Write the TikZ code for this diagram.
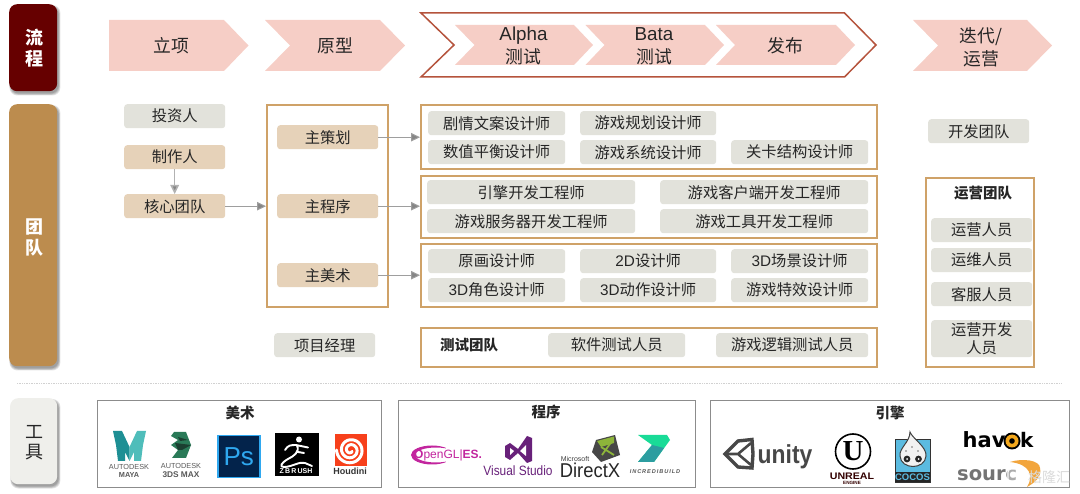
\documentclass[tikz,border=0pt]{standalone}
\usepackage{fontspec}
\setmainfont{Noto Sans CJK SC}
\newfontfamily\lat{Liberation Sans}
\newfontfamily\latserif{Liberation Serif}
\newfontfamily\heavy{DejaVu Sans}
\usetikzlibrary{arrows.meta,calc}
\definecolor{dkred}{HTML}{660000}
\definecolor{brown}{HTML}{BC8C4E}
\definecolor{toolbg}{HTML}{EFEFEB}
\definecolor{pinkc}{HTML}{F6CEC6}
\definecolor{outerc}{HTML}{B5533C}
\definecolor{chipg}{HTML}{E2E2DB}
\definecolor{chipb}{HTML}{E6D2B9}
\definecolor{frameo}{HTML}{CFA268}
\definecolor{frameg}{HTML}{8C8C8C}
\definecolor{txt}{HTML}{262626}
\definecolor{mayaA}{HTML}{1E8F94}
\definecolor{mayaB}{HTML}{4FBDBA}
\definecolor{maxA}{HTML}{2A7A58}
\definecolor{maxB}{HTML}{1B3F31}
\definecolor{psbg}{HTML}{03234B}
\definecolor{psfg}{HTML}{2FA8F0}
\definecolor{houd}{HTML}{F7401B}
\definecolor{oglc}{HTML}{C2259E}
\definecolor{vsc}{HTML}{68217A}
\definecolor{ibg}{HTML}{19DB97}
\definecolor{ibt}{HTML}{2C9DA0}
\definecolor{cocb}{HTML}{5BBBE0}
\definecolor{dxg}{HTML}{8DB53A}
\definecolor{havo}{HTML}{F4A81C}
\definecolor{srco}{HTML}{F2A53C}
\tikzset{x=1pt,y=-1pt,
 chip/.style={rounded corners=3pt,inner sep=0pt,align=center,text=txt,font=\fontsize{15.3}{19}\selectfont},
 graychip/.style={chip,fill=chipg},
 tanchip/.style={chip,fill=chipb},
 frameor/.style={draw=frameo,line width=1.6pt,fill=white,inner sep=0pt},
 framegr/.style={draw=frameg,line width=1.4pt,fill=white,inner sep=0pt},
 lane/.style={rounded corners=8pt,inner sep=0pt,align=center},
 pink/.style={fill=pinkc},
 steplabel/.style={font=\fontsize{17.8}{23}\selectfont,text=txt,align=center,inner sep=0pt},
 flow/.style={draw=black!38,line width=1pt,-{Triangle[length=9pt,width=8.5pt,fill=black!48]}},
 title/.style={font=\bfseries\fontsize{14.5}{18}\selectfont,text=txt,inner sep=0pt},
 logot/.style={inner sep=0pt,font=\lat},
}
% name, x1,y1,x2,y2, style, text
\newcommand\bx[7]{%
 \pgfmathsetmacro\bxw{#4-#2}\pgfmathsetmacro\bxh{#5-#3}%
 \node[#6,minimum width=\bxw pt,minimum height=\bxh pt,anchor=north west] (#1) at (#2,#3) {#7};}
% soft shadow under a lane
\newcommand\softsh[4]{%
 \foreach \d in {0,1,2,3}{\fill[black,opacity=.11,rounded corners=8pt] ({#1+\d*.4+.4},{#2+\d*.5+1}) rectangle ({#3+3.4-\d*.6},{#4+4.5-\d*.7});}}
\begin{document}
\begin{tikzpicture}
\useasboundingbox (0,0) rectangle (1080,494);
% lanes
\softsh{9}{4}{57}{91}
\softsh{9}{104}{57}{366}
\softsh{10}{398}{57}{484}
\bx{laneA}{9}{4}{57}{91}{lane,fill=dkred}{}
\bx{laneB}{9}{104}{57}{366}{lane,fill=brown}{}
\bx{laneC}{10}{398}{57}{484}{lane,fill=toolbg}{}
\node[text=white,align=center,inner sep=0pt,font=\bfseries\fontsize{18}{21}\selectfont] (laneAt) at (34,48.5) {流\\程};
\node[text=white,align=center,inner sep=0pt,font=\bfseries\fontsize{18}{21}\selectfont] (laneBt) at (34,237.5) {团\\队};
\node[text=txt,align=center,inner sep=0pt,font=\fontsize{18}{20}\selectfont] (laneCt) at (34,443) {工\\具};
% flow
\fill[pink] (109,20) -- (224,20) -- (248.5,45.5) -- (224,71) -- (109,71) -- cycle;
\node[steplabel] (s1) at (171,46) {立项};
\fill[pink] (265,20) -- (380,20) -- (405,45.5) -- (380,71) -- (265,71) -- (290,45.5) -- cycle;
\node[steplabel] (s2) at (335,46) {原型};
\draw[draw=outerc,line width=1.5pt,fill=white,miter limit=10] (421,13) -- (844.5,13) -- (876,45) -- (844.5,77) -- (421,77) -- (454,45) -- cycle;
\fill[pink] (455,25) -- (574,25) -- (593,45) -- (574,65) -- (455,65) -- (474.5,45) -- cycle;
\fill[pink] (585.5,25) -- (705,25) -- (724,45) -- (705,65) -- (585.5,65) -- (604.5,45) -- cycle;
\fill[pink] (716,25) -- (836,25) -- (855,45) -- (836,65) -- (716,65) -- (735,45) -- cycle;
\node[steplabel] (s3) at (523.5,46) {{\lat\fontsize{18.8}{23}\selectfont Alpha}\\测试};
\node[steplabel] (s4) at (654,46) {{\lat\fontsize{18.8}{23}\selectfont Bata}\\测试};
\node[steplabel] (s5) at (785,46) {发布};
\fill[pink] (913,20) -- (1027,20) -- (1052,45.5) -- (1027,71) -- (913,71) -- (938,45.5) -- cycle;
\node[steplabel] (s6) at (981,47) {迭代/\\运营};
% left column
\bx{inv}{124}{104}{225}{128}{graychip}{投资人}
\bx{prod}{124}{145}{225}{169}{tanchip}{制作人}
\bx{core}{124}{194}{225}{218}{tanchip}{核心团队}
\bx{pm}{274}{333}{375}{357}{graychip}{项目经理}
% leads frame
\bx{leads}{266}{104}{387}{306}{frameor}{}
\bx{lead1}{277}{125}{378}{149}{tanchip}{主策划}
\bx{lead2}{277}{194}{378}{218}{tanchip}{主程序}
\bx{lead3}{277}{263}{378}{287}{tanchip}{主美术}
% group 1
\bx{g1}{420}{104}{876}{168}{frameor}{}
\bx{a1}{428}{111}{565}{135}{graychip}{剧情文案设计师}
\bx{a2}{580}{111}{716}{135}{graychip}{游戏规划设计师}
\bx{a3}{428}{140}{565}{164}{graychip}{数值平衡设计师}
\bx{a4}{580}{140}{716}{164}{graychip}{游戏系统设计师}
\bx{a5}{731}{140}{868}{164}{graychip}{关卡结构设计师}
% group 2
\bx{g2}{420}{175}{876}{237}{frameor}{}
\bx{b1}{427}{180}{635}{204}{graychip}{引擎开发工程师}
\bx{b2}{660}{180}{868}{204}{graychip}{游戏客户端开发工程师}
\bx{b3}{427}{209}{635}{233}{graychip}{游戏服务器开发工程师}
\bx{b4}{660}{209}{868}{233}{graychip}{游戏工具开发工程师}
% group 3
\bx{g3}{420}{243}{876}{306}{frameor}{}
\bx{c1}{428}{249}{565}{273}{graychip}{原画设计师}
\bx{c2}{580}{249}{716}{273}{graychip}{{\lat 2D}设计师}
\bx{c3}{731}{249}{868}{273}{graychip}{{\lat 3D}场景设计师}
\bx{c4}{428}{278}{565}{302}{graychip}{{\lat 3D}角色设计师}
\bx{c5}{580}{278}{716}{302}{graychip}{{\lat 3D}动作设计师}
\bx{c6}{731}{278}{868}{302}{graychip}{游戏特效设计师}
% test
\bx{g4}{420}{327}{876}{366}{frameor}{}
\node[title] (t4) at (469,345.5) {测试团队};
\bx{d1}{548}{333}{685}{357}{graychip}{软件测试人员}
\bx{d2}{716}{333}{868}{357}{graychip}{游戏逻辑测试人员}
% right
\bx{dev}{928}{119}{1029}{143}{graychip}{开发团队}
\bx{ops}{925}{177}{1033}{366}{frameor}{}
\node[title] (opst) at (983,193) {运营团队};
\bx{e1}{931}{218}{1032}{242}{graychip}{运营人员}
\bx{e2}{931}{248}{1032}{272}{graychip}{运维人员}
\bx{e3}{931}{282}{1032}{306}{graychip}{客服人员}
\bx{e4}{931}{320}{1032}{357}{graychip,font=\fontsize{15.3}{18}\selectfont}{运营开发\\人员}
% connectors
\draw[flow,draw=black!30,line width=1.5pt] (prod.south) -- (core.north);
\draw[flow] (core.east) -- (leads.west |- core.east);
\draw[flow] (lead1.east) -- (g1.west |- lead1.east);
\draw[flow] (lead2.east) -- (g2.west |- lead2.east);
\draw[flow] (lead3.east) -- (g3.west |- lead3.east);
% separator
\coordinate (sepL) at (17,383);\coordinate (sepR) at (1062,383);
\draw[black!18,densely dotted,line width=.7pt] (sepL) -- (sepR);
% tools
\bx{art}{97}{400}{381}{487}{framegr}{}
\bx{prog}{398}{400}{695}{487}{framegr}{}
\bx{eng}{710}{400}{1069}{487}{framegr}{}
\node[title] (artt) at (240,413) {美术};
\node[title] (progt) at (546,412) {程序};
\node[title] (engt) at (890,413) {引擎};
% Maya
\fill[mayaA] (113,431) -- (122,431) -- (129.5,447) -- (129.5,461) -- (125,452) -- (125,461) -- (118,461) -- (116,445) -- cycle;
\fill[mayaB] (146,431) -- (137,431) -- (129.5,447) -- (129.5,461) -- (134,452) -- (134,461) -- (141,461) -- (143,445) -- cycle;
\node[logot,text=black!65,font=\lat\fontsize{7.3}{8.3}\selectfont,align=center] (maya) at (129,471) {AUTODESK\\\bfseries MAYA};
% 3ds Max
\fill[maxA] (174,432) -- (186,432) -- (191,445) -- (186,458) -- (172,458) -- (178,450) -- (171,445) -- (178,440) -- (171,436) -- cycle;
\fill[maxB] (175,443) -- (191,445) -- (182,450) -- (178,450) -- cycle (178,437) -- (188,440) -- (180,441) -- cycle;
\node[logot,text=black!65,font=\lat\fontsize{7.3}{9}\selectfont,align=center] (max) at (181,470) {AUTODESK\\\bfseries\fontsize{8.3}{9}\selectfont 3DS MAX};
% Photoshop
\bx{ps}{217}{435}{259}{477}{logot,fill=psbg,draw=psfg,line width=1.5pt,text=psfg,font=\lat\fontsize{26}{26}\selectfont}{Ps}
% ZBrush
\fill[black] (275,433) rectangle (319,476.5);
\draw[white,line width=1.9pt,line cap=round,line join=round] (285,450) .. controls (288,445) and (291,445) .. (296,445) -- (308,447.5) (297,445.5) .. controls (300,452) and (294,456) .. (288,459) .. controls (281,463) and (279,467) .. (284,467) .. controls (292,467) and (300,461) .. (305,463) -- (312,466) (298,452) -- (304,453);
\fill[white] (299,439.5) circle (3pt);
\node[logot,text=white,font=\lat\bfseries\fontsize{7}{8}\selectfont] (zb) at (296,471.5) {Z\,B\,R\,USH};
% Houdini
\fill[houd] (335,434) rectangle (367,466);
\draw[white,line width=3pt,line cap=round,smooth] plot[domain=40:900,samples=90] ({350.5+(1.5+\x/72)*cos(\x)},{450+(1.5+\x/72)*sin(\x)});
\node[logot,text=black!80,font=\lat\bfseries\fontsize{9}{9}\selectfont] (hou) at (350,471.5) {Houdini};
% OpenGL ES
\fill[oglc,even odd rule] (432,455) ellipse[x radius=21,y radius=9.5] (436,455) ellipse[x radius=21,y radius=7.5];
\fill[white] (446,443) rectangle (460,468);
\node[logot,anchor=west,text=oglc,font=\lat\fontsize{12}{12}\selectfont] (ogl) at (414,455) {\textbf{O}penGL|\textbf{ES.}};
% Visual Studio
\fill[vsc] (505,446) -- (510,443) -- (518,449) -- (527,436) -- (532,438) -- (532,461) -- (527,463) -- (518,453) -- (510,460) -- (505,457) -- cycle;
\fill[white] (510,448) -- (514,451) -- (510,455) -- cycle (526,445) -- (520,451) -- (526,456) -- cycle;
\node[logot,text=vsc,font=\lat\fontsize{13.5}{14}\selectfont] (vs) at (518,470.5) {\scalebox{.88}[1]{Visual Studio}};
% DirectX
\fill[black!72] (596,440) -- (615,435) -- (620,455) -- (601,462) -- (592,452) -- cycle;
\fill[dxg] (597,441) -- (614,436.5) -- (614,443) -- (601,447) -- cycle;
\draw[dxg,line width=1.8pt] (601,447) -- (614,455) (612,441) -- (602,455);
\node[logot,text=black!75,font=\lat\fontsize{7}{7}\selectfont] (ms) at (575,459) {Microsoft};
\node[logot,text=black!85,font=\lat\fontsize{20}{20}\selectfont] (dx) at (590,470) {\scalebox{.92}[1]{DirectX}};
% Incredibuild
\fill[ibg] (638,435) -- (667,435) -- (670,440) -- (654,462) -- (638,462) -- (652,445) -- cycle;
\fill[ibt] (652,445) -- (664,448) -- (654,462) -- (638,462) -- cycle;
\node[logot,text=black!65,font=\lat\itshape\bfseries\fontsize{5.6}{6}\selectfont] (ib) at (655,472) {I\,N\,C\,R\,E\,D\,I\,B\,U\,I\,L\,D};
% Unity
\draw[black!72,line width=3.4pt,line join=miter] (725,454) -- (738,441) -- (752,439.5) -- (753,454) -- (752,468) -- (738,467) -- cycle;
\draw[black!72,line width=2.6pt] (725,454) -- (738,454) -- (751,443) (738,454) -- (751,465);
\node[logot,text=black!72,font=\lat\bfseries\fontsize{26}{26}\selectfont] (un) at (785,457) {\scalebox{.88}[1]{unity}};
% Unreal
\draw[black,line width=1.6pt] (853,451.5) circle (17.5pt);
\node[logot,text=black,font=\latserif\bfseries\fontsize{29}{29}\selectfont] (uu) at (853,451) {U};
\node[logot,text=black!80!red,font=\lat\bfseries\fontsize{9.5}{9}\selectfont] (ue) at (852,476) {\scalebox{1.12}[1]{UNREAL}};
\node[logot,text=black!80!red,font=\lat\bfseries\fontsize{4.6}{5}\selectfont] (ue2) at (852,482.5) {ENGINE};
% Cocos
\fill[cocb,draw=black!80,line width=.8pt] (895,439) rectangle (930,482);
\fill[black!5,draw=black!75,line width=1pt] (910,432) .. controls (912,438) and (927,447) .. (926,456) .. controls (925,470) and (901,470) .. (900,456) .. controls (899,448) and (910,442) .. (910,432) -- cycle;
\fill[black!85] (907,459) circle (3.4pt) (918.5,459) circle (3.4pt);
\fill[white] (907,459) circle (1pt) (918.5,459) circle (1pt);
\fill[black!55] (912,447) circle (.8pt) (906,451) circle (.8pt) (918,451) circle (.8pt);
\node[logot,fill=black!85,minimum width=35pt,minimum height=10pt,text=cocb,font=\lat\bfseries\fontsize{9.5}{9}\selectfont] (cc) at (912.5,477) {COCOS};
% Havok
\node[logot,anchor=base west,text=black,font=\heavy\bfseries\fontsize{21}{21}\selectfont] (hv) at (962.5,447.5) {hav};
\fill[black] (1012,441) circle (8.5pt);
\fill[havo] (1012,441) circle (6.5pt);
\fill[black] (1012,441) circle (2.8pt);
\node[logot,anchor=base west,text=black,font=\heavy\bfseries\fontsize{20}{21}\selectfont] (hk) at (1020,447.5) {k};
% Source
\node[logot,anchor=base west,text=black!55,font=\heavy\bfseries\fontsize{19.5}{20}\selectfont] (src) at (957,481) {sourc};
\fill[srco] (1010,462) .. controls (1022,458) and (1040,460) .. (1040,468) .. controls (1042,476) and (1036,482) .. (1027,487) .. controls (1034,476) and (1030,464) .. (1010,462) -- cycle;
% watermark
\fill[white,opacity=.4,rounded corners=3pt] (1007,468) rectangle (1025,485);
\draw[white,opacity=.9,line width=1.2pt,rounded corners=3pt] (1008,469) rectangle (1024,484);
\node[logot,text=white!72!gray,font=\fontsize{14}{14}\selectfont] (wm) at (1049,477) {格隆汇};
\end{tikzpicture}
\end{document}
